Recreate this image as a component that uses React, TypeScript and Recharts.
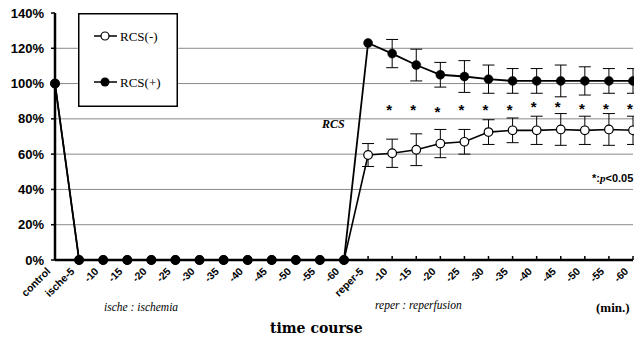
import React from 'react';
import { LineChart, Line, XAxis, YAxis, CartesianGrid, ErrorBar } from 'recharts';

// time points: control, 12 ischemia steps, 12 reperfusion steps
const timeLabels = [
  'control',
  'ische-5', '-10', '-15', '-20', '-25', '-30', '-35', '-40', '-45', '-50', '-55', '-60',
  'reper-5', '-10', '-15', '-20', '-25', '-30', '-35', '-40', '-45', '-50', '-55', '-60',
];

const rcsMinus = [
  100,
  0, 0, 0, 0, 0, 0, 0, 0, 0, 0, 0, 0,
  59.5, 60.5, 62.5, 66, 67, 72.5, 73.5, 73.5, 74, 73.5, 74, 73.5,
];
const rcsMinusSd = [
  0,
  0, 0, 0, 0, 0, 0, 0, 0, 0, 0, 0, 0,
  6.5, 8, 9, 8, 7, 7, 7, 8, 9, 8, 9, 8,
];

const rcsPlus = [
  100,
  0, 0, 0, 0, 0, 0, 0, 0, 0, 0, 0, 0,
  123, 117, 110.5, 105, 104, 102.5, 101.5, 101.5, 101.5, 101.5, 101.5, 101.5,
];
const rcsPlusSd = [
  0,
  0, 0, 0, 0, 0, 0, 0, 0, 0, 0, 0, 0,
  0, 8, 9, 7, 9, 8, 7, 7, 9, 8, 7, 7,
];

// height where the significance asterisk sits
const sigMarks = [
  null,
  null, null, null, null, null, null, null, null, null, null, null, null,
  null, 87, 87, 85.7, 87, 87, 87, 88.5, 88.5, 87.5, 87.5, 87.5,
];

const yTicks = [0, 20, 40, 60, 80, 100, 120, 140];

const data = timeLabels.map((t, i) => ({
  t,
  minus: rcsMinus[i],
  minusSd: rcsMinusSd[i],
  plus: rcsPlus[i],
  plusSd: rcsPlusSd[i],
  star: sigMarks[i],
}));

const SANS = '"Liberation Sans", Arial, sans-serif';
const SERIF = '"Liberation Serif", "Times New Roman", serif';

const XTick = (props: any) => {
  const { x, y, payload } = props;
  const ax = x - 4;
  const ay = y + 12;
  return (
    <g>
      <line x1={x} y1={y - 4} x2={x} y2={y} stroke="#000" strokeWidth={1.5} />
      <text
        x={ax}
        y={ay}
        transform={`rotate(-45 ${ax} ${ay})`}
        textAnchor="end"
        fontFamily={SANS}
        fontWeight="bold"
        fontSize={10.5}
        fill="#000"
      >
        {payload.value}
      </text>
    </g>
  );
};

const StarDot = (props: any) => {
  const { cx, cy, payload } = props;
  if (payload.star == null || cy == null) return <g />;
  return (
    <text x={cx - 3} y={cy + 8} textAnchor="middle" fontFamily={SANS} fontWeight="bold" fontSize={15} fill="#000">
      *
    </text>
  );
};

const LegendBox = () => (
  <svg width={100} height={94}>
    <rect x={0.75} y={0.75} width={98.5} height={92.5} fill="#fff" stroke="#000" strokeWidth={1.5} />
    <line x1={16} x2={39} y1={23} y2={23} stroke="#000" strokeWidth={1.5} />
    <circle cx={27} cy={23} r={4} fill="#fff" stroke="#000" strokeWidth={1.2} />
    <text x={42} y={27.5} fontFamily={SERIF} fontSize={13} fill="#000">RCS(-)</text>
    <line x1={16} x2={39} y1={69} y2={69} stroke="#000" strokeWidth={1.5} />
    <circle cx={27} cy={69} r={4.5} fill="#000" />
    <text x={42} y={73.5} fontFamily={SERIF} fontSize={13} fill="#000">RCS(+)</text>
  </svg>
);

const abs = (left: number, top: number, extra: React.CSSProperties = {}): React.CSSProperties => ({
  position: 'absolute',
  left,
  top,
  whiteSpace: 'nowrap',
  color: '#000',
  lineHeight: 1,
  ...extra,
});

const App: React.FC = () => {
  return (
    <div style={{ position: 'relative', width: 634, height: 342, background: '#fff' }}>
      <style>{'body{margin:0}'}</style>
      <LineChart width={634} height={342} data={data} margin={{ top: 13, right: 1, left: 0, bottom: 0 }}>
        <CartesianGrid
          vertical={false}
          horizontalValues={[20, 40, 60, 80, 100, 120]}
          stroke="#8a8a8a"
          strokeWidth={1}
        />
        <XAxis
          dataKey="t"
          height={82}
          interval={0}
          tickSize={0}
          tickMargin={0}
          tickLine={false}
          tick={<XTick />}
          axisLine={{ stroke: '#000', strokeWidth: 2.5 }}
        />
        <YAxis
          width={55}
          domain={[0, 140]}
          ticks={yTicks}
          tickFormatter={(v: number) => `${v}%`}
          tickSize={4}
          tickMargin={7}
          tickLine={{ stroke: '#000', strokeWidth: 1.5 }}
          axisLine={{ stroke: '#000', strokeWidth: 2.5 }}
          tick={{ fill: '#000', fontSize: 13, fontWeight: 'bold', fontFamily: SANS }}
        />
        <Line
          dataKey="minus"
          stroke="#000"
          strokeWidth={1.6}
          dot={{ r: 4.3, fill: '#fff', stroke: '#000', strokeWidth: 1.2 }}
          activeDot={false}
          isAnimationActive={false}
        >
          <ErrorBar dataKey="minusSd" width={6} stroke="#000" strokeWidth={1} isAnimationActive={false} />
        </Line>
        <Line
          dataKey="plus"
          stroke="#000"
          strokeWidth={1.8}
          dot={{ r: 4.5, fill: '#000', stroke: '#000', strokeWidth: 0.5 }}
          activeDot={false}
          isAnimationActive={false}
        >
          <ErrorBar dataKey="plusSd" width={6} stroke="#000" strokeWidth={1} isAnimationActive={false} />
        </Line>
        <Line
          dataKey="star"
          stroke="none"
          dot={<StarDot />}
          activeDot={false}
          legendType="none"
          isAnimationActive={false}
        />
      </LineChart>

      <div style={abs(78, 13)}>
        <LegendBox />
      </div>

      <div style={abs(322, 118, { fontFamily: SERIF, fontStyle: 'italic', fontWeight: 'bold', fontSize: 12 })}>RCS</div>
      <div style={abs(592, 173, { fontFamily: SANS, fontWeight: 'bold', fontSize: 11 })}>
        *:<span style={{ fontStyle: 'italic', fontFamily: SERIF }}>p</span>&lt;0.05
      </div>
      <div style={abs(104, 302, { fontFamily: SERIF, fontStyle: 'italic', fontSize: 11.5 })}>ische : ischemia</div>
      <div style={abs(375, 300, { fontFamily: SERIF, fontStyle: 'italic', fontSize: 11.5 })}>reper : reperfusion</div>
      <div style={abs(596, 301, { fontFamily: SERIF, fontWeight: 'bold', fontSize: 13 })}>(min.)</div>
      <div style={abs(270, 321, { fontFamily: '"DejaVu Serif", serif', fontWeight: 'bold', fontSize: 14 })}>time course</div>
    </div>
  );
};

export default App;
